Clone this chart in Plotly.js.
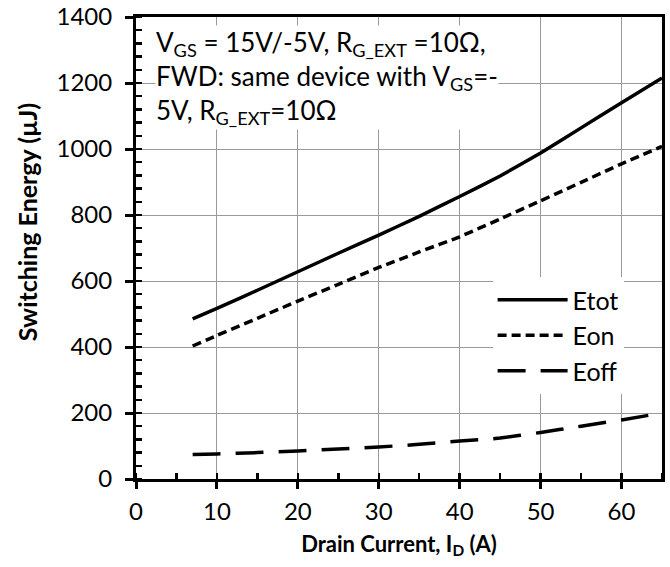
<!DOCTYPE html>
<html>
<head>
<meta charset="utf-8">
<script src="https://cdn.plot.ly/plotly-3.0.1.min.js"></script>
<style>html,body{margin:0;padding:0;background:#fff;}</style>
</head>
<body>
<div id="chart" style="width:670px;height:567px;"></div>
<script>
// Data
const current = [7, 10, 15, 20, 25, 30, 35, 40, 45, 50, 55, 60, 65];
const eTot = [485, 517, 572, 628, 684, 739, 796, 856, 918, 988, 1064, 1140, 1215];
const eOn  = [403, 435, 487, 539, 590, 641, 688, 734, 788, 843, 899, 955, 1008];
const eOff = [74, 76, 80, 85, 91, 97, 105, 115, 124, 141, 160, 179, 200];
const seriesNames = ['Etot', 'Eon', 'Eoff'];
const xTicks = [0, 10, 20, 30, 40, 50, 60];
const yTicks = [0, 200, 400, 600, 800, 1000, 1200, 1400];

const FONT = 'Lato, "Open Sans", sans-serif';

const traces = [
  {x: current, y: eTot, name: seriesNames[0], mode: 'lines', line: {color: '#000', width: 3.5, shape: 'spline', smoothing: 0.3}},
  {x: current, y: eOn, name: seriesNames[1], mode: 'lines', line: {color: '#000', width: 3.5, dash: '9px,5px', shape: 'spline', smoothing: 0.3}},
  {x: current, y: eOff, name: seriesNames[2], mode: 'lines', line: {color: '#000', width: 3.5, dash: '28px,15px', shape: 'spline', smoothing: 0.3}}
];

const layout = {
  width: 670, height: 567,
  margin: {l: 136, r: 8, t: 17, b: 88},
  paper_bgcolor: '#fff', plot_bgcolor: '#fff',
  font: {family: FONT, size: 24, color: '#000'},
  showlegend: true,
  legend: {
    x: 0.927, xanchor: 'right', y: 0.437, yanchor: 'top',
    bgcolor: '#fff', borderwidth: 0,
    font: {family: FONT, size: 25, color: '#000'},
    itemwidth: 70, tracegroupgap: 0
  },
  xaxis: {
    range: [0, 65], tickvals: xTicks, ticktext: xTicks.map(String),
    showgrid: true, gridcolor: '#9a9a9a', gridwidth: 1,
    showline: true, linecolor: '#000', linewidth: 3, mirror: true,
    ticks: 'outside', ticklen: 7, tickwidth: 3, tickcolor: '#000',
    minor: {dtick: 5, ticks: 'inside', ticklen: 6, tickwidth: 2.5, tickcolor: '#000', showgrid: false},
    zeroline: false, ticklabelstandoff: 2,
    tickfont: {family: FONT, size: 24},
    title: {text: '<b>Drain Current, I<sub>D</sub> (A)</b>', font: {family: FONT, size: 22}, standoff: 13}
  },
  yaxis: {
    range: [0, 1400], tickvals: yTicks, ticktext: yTicks.map(String),
    showgrid: true, gridcolor: '#9a9a9a', gridwidth: 1,
    showline: true, linecolor: '#000', linewidth: 3, mirror: true,
    ticks: 'outside', ticklen: 8, tickwidth: 3, tickcolor: '#000',
    minor: {dtick: 40, ticks: 'inside', ticklen: 6, tickwidth: 2.5, tickcolor: '#000', showgrid: false},
    zeroline: false, ticklabelstandoff: 8,
    tickfont: {family: FONT, size: 24}
  },
  xaxis2: {overlaying: 'x', anchor: 'y', range: [0, 65], tickvals: xTicks, showticklabels: false,
    ticks: 'inside', ticklen: 6, tickwidth: 3, tickcolor: '#000', showgrid: false, zeroline: false, showline: false},
  yaxis2: {overlaying: 'y', anchor: 'x', range: [0, 1400], tickvals: yTicks, showticklabels: false,
    ticks: 'inside', ticklen: 6, tickwidth: 3, tickcolor: '#000', showgrid: false, zeroline: false, showline: false},
  annotations: [
    {
      xref: 'paper', yref: 'paper', x: 0.036, y: 0.983, xanchor: 'left', yanchor: 'top',
      align: 'left', showarrow: false, bgcolor: '#fff', borderpad: 0,
      font: {family: FONT, size: 26, color: '#000'},
      text: 'V<sub>GS</sub> = 15V/-5V, R<sub>G_EXT</sub> =10Ω,<br>FWD: same device with V<sub>GS</sub>=-<br>5V, R<sub>G_EXT</sub>=10Ω'
    },
    {
      xref: 'paper', yref: 'paper', x: -0.207, y: 0.556, xanchor: 'center', yanchor: 'middle',
      textangle: -90, showarrow: false,
      font: {family: FONT, size: 25, color: '#000'},
      text: '<b>Switching Energy (µJ)</b>'
    }
  ]
};

Plotly.newPlot('chart', traces, layout, {staticPlot: true, displayModeBar: false});
</script>
</body>
</html>
